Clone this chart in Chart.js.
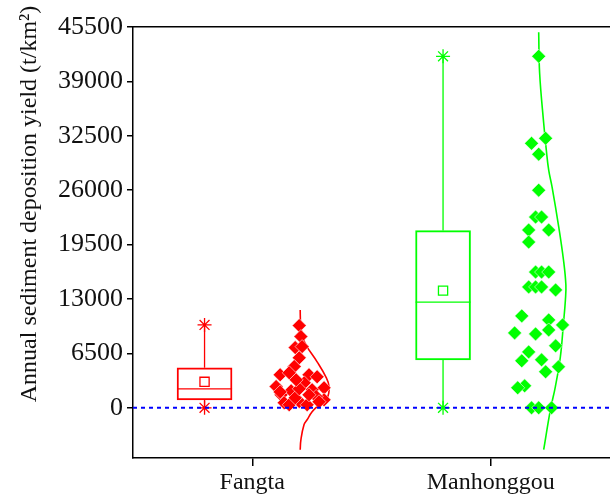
<!DOCTYPE html>
<html>
<head>
<meta charset="utf-8">
<script src="https://cdn.jsdelivr.net/npm/chart.js@4"></script>
<style>
	html, body { margin: 0; padding: 0; background: #fff; }
	#wrap { width: 610px; height: 498px; }
</style>
</head>
<body>
<div id="wrap"><canvas id="chart"></canvas></div>
<script>
const categories = ['Fangta', 'Manhonggou']
const yTicks = [0, 6500, 13000, 19500, 26000, 32500, 39000, 45500]

// box statistics per site
const boxPos = [0.8, 1.8]
const boxMin = [0, 0]
const boxQ1 = [950, 5730]
const boxMedian = [2270, 12620]
const boxMean = [3100, 14000]
const boxQ3 = [4780, 21170]
const boxMax = [9900, 42000]

// yearly values and their jitter position
const fangtaValues = [9820, 8510, 7190, 7310, 5970, 4930, 3940, 4180, 3940, 3700, 2540, 2980, 2390, 1550,
	2030, 2150, 600, 750, 360, 950, 1350, 360, 1190, 720, 1900, 2270, 1550, 3340]
const fangtaJitter = [1.197, 1.204, 1.180, 1.209, 1.197, 1.176, 1.117, 1.155, 1.238, 1.272, 1.100, 1.218, 1.301, 1.121,
	1.163, 1.251, 1.134, 1.197, 1.230, 1.301, 1.268, 1.155, 1.180, 1.280, 1.117, 1.197, 1.238, 1.184]

const manhongValues = [42000, 32200, 31600, 30300, 26000, 22790, 22790, 21240, 21240, 19800, 16220, 16220, 16220,
	14440, 14440, 14440, 14080, 10980, 10500, 9900, 9300, 8950, 8830, 7400, 6680, 5730, 5610, 4890, 4300,
	2620, 2390, 0, 0, 0]
const manhongJitter = [2.201, 2.230, 2.171, 2.201, 2.201, 2.188, 2.213, 2.159, 2.243, 2.159, 2.188, 2.213, 2.243,
	2.159, 2.188, 2.213, 2.272, 2.130, 2.243, 2.301, 2.243, 2.100, 2.188, 2.272, 2.159, 2.213, 2.130, 2.284, 2.230,
	2.142, 2.113, 2.171, 2.201, 2.255]

// normal distribution curves
const fangtaCurveValues = [11690, 9900, 8710, 7520, 5490, 3730, 2540, 1190, 360, -480, -1430, -2030, -3820, -5010]
const fangtaCurvePos = [1.201, 1.203, 1.210, 1.225, 1.272, 1.308, 1.322, 1.314, 1.280, 1.251, 1.230, 1.217, 1.204, 1.201]
const manhongCurveValues = [44860, 39970, 34000, 30780, 28390, 26400, 21630, 17660, 14670, 12880, 10140, 6120, 2540, -240, -5010]
const manhongCurvePos = [2.201, 2.205, 2.222, 2.233, 2.243, 2.257, 2.285, 2.305, 2.315, 2.313, 2.305, 2.292, 2.271, 2.250, 2.222]

const colors = ['#ff0000', '#00ff00']
const family = '"Liberation Serif", "Times New Roman", serif'

function zip(xs, ys) {
	return ys.map((y, i) => ({ x: xs[i], y: y }))
}

function whisker(i) {
	return {
		type: 'line',
		data: [
			{ x: boxPos[i], y: boxQ3[i] }, { x: boxPos[i], y: boxMax[i] },
			{ x: boxPos[i], y: null },
			{ x: boxPos[i], y: boxMin[i] }, { x: boxPos[i], y: boxQ1[i] }
		],
		borderColor: colors[i],
		borderWidth: 1.3,
		pointRadius: 0,
		spanGaps: false
	}
}

function points(xs, ys, i) {
	return {
		data: zip(xs, ys),
		pointStyle: 'rectRot',
		pointRadius: 7,
		backgroundColor: colors[i],
		borderColor: 'rgba(255,255,255,0.7)',
		borderWidth: 0.8
	}
}

function curve(xs, ys, i) {
	return {
		type: 'line',
		data: zip(xs, ys),
		borderColor: colors[i],
		borderWidth: 1.6,
		pointRadius: 0,
		tension: 0.4
	}
}

const yTitle = {
	id: 'yTitle',
	afterDraw(chart) {
		const ctx = chart.ctx
		ctx.save()
		ctx.translate(30, 204)
		ctx.rotate(-Math.PI / 2)
		ctx.font = '24px ' + family
		ctx.fillStyle = '#111'
		ctx.textAlign = 'center'
		ctx.textBaseline = 'middle'
		ctx.fillText('Annual sediment deposition yield (t/km²)', 0, 0)
		ctx.restore()
	}
}

function chartInit() {
	const datasets = [
		{
			type: 'line',
			data: [{ x: 0.5, y: 0 }, { x: 2.5, y: 0 }],
			borderColor: '#0000ff',
			borderWidth: 2,
			borderDash: [4, 4],
			pointRadius: 0
		},
		points(fangtaJitter, fangtaValues, 0),
		points(manhongJitter, manhongValues, 1),
		curve(fangtaCurvePos, fangtaCurveValues, 0),
		curve(manhongCurvePos, manhongCurveValues, 1),
		{
			// min / max markers
			data: zip(boxPos.concat(boxPos), boxMin.concat(boxMax)),
			pointStyle: 'star',
			pointRadius: 7,
			borderWidth: 1.3,
			borderColor: colors.concat(colors),
			backgroundColor: colors.concat(colors)
		},
		{
			// mean
			data: zip(boxPos, boxMean),
			pointStyle: 'rect',
			pointRadius: 6.5,
			borderWidth: 1.3,
			borderColor: colors,
			backgroundColor: '#fff'
		},
		{
			// median
			data: zip(boxPos, boxMedian),
			pointStyle: 'line',
			pointRadius: 27.5,
			borderWidth: 1.3,
			borderColor: colors
		},
		whisker(0),
		whisker(1),
		{
			type: 'bar',
			data: boxPos.map((x, i) => ({ x: x, y: [boxQ1[i], boxQ3[i]] })),
			barThickness: 55,
			borderSkipped: false,
			borderWidth: 1.3,
			borderColor: colors,
			backgroundColor: 'rgba(0,0,0,0)'
		}
	]

	new Chart(document.getElementById('chart'), {
		type: 'scatter',
		data: { datasets: datasets },
		options: {
			responsive: true,
			maintainAspectRatio: false,
			animation: false,
			layout: { padding: 0, autoPadding: false },
			plugins: {
				legend: { display: false },
				tooltip: { enabled: false }
			},
			scales: {
				x: {
					type: 'linear',
					min: 0.5,
					max: 2.5,
					offset: false,
					afterBuildTicks: (s) => { s.ticks = [{ value: 1 }, { value: 2 }] },
					afterFit: (s) => { s.height = 40 },
					ticks: {
						callback: (v) => categories[v - 1],
						font: { family: family, size: 24 },
						color: '#111',
						padding: 2,
						maxRotation: 0
					},
					grid: { offset: false, drawOnChartArea: false, tickLength: 8, color: '#000', lineWidth: 1.5 },
					border: { color: '#000', width: 1.5 }
				},
				top: {
					type: 'linear',
					position: 'top',
					min: 0.5,
					max: 2.5,
					afterFit: (s) => { s.height = 27 },
					ticks: { display: false },
					grid: { display: false },
					border: { color: '#000', width: 1.5 }
				},
				y: {
					type: 'linear',
					min: -6000,
					max: 45500,
					afterBuildTicks: (s) => { s.ticks = yTicks.map(v => ({ value: v })) },
					afterFit: (s) => { s.width = 133 },
					ticks: {
						callback: (v) => String(v),
						font: { family: family, size: 26 },
						color: '#111',
						padding: 4
					},
					grid: { drawOnChartArea: false, tickLength: 6, color: '#000', lineWidth: 1.5 },
					border: { color: '#000', width: 1.5 }
				}
			}
		},
		plugins: [yTitle]
	})
}
window.addEventListener('load', chartInit)
</script>
</body>
</html>
